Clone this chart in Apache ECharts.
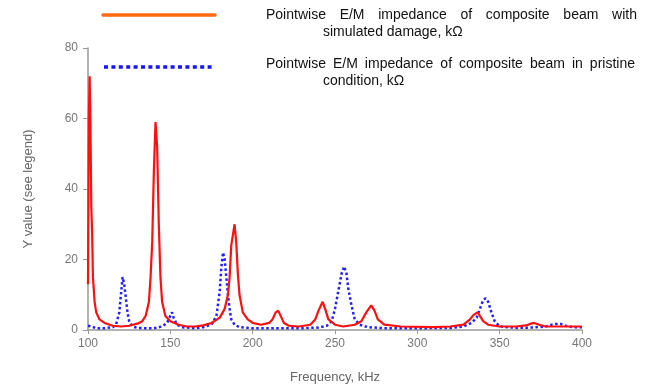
<!DOCTYPE html>
<html><head><meta charset="utf-8">
<script src="https://cdn.jsdelivr.net/npm/echarts@6/dist/echarts.min.js"></script>
<style>html,body{margin:0;padding:0;background:#fff}#c{width:652px;height:389px}</style>
</head><body><div id="c"></div>
<script>
// Damaged beam (red)
const damagedFreq = [100,100.5,101,101.5,102,102.5,103,104,105,107,110,115,120,125,130,133,135,137,138,139,140,141,142,143,144,145,147,150,155,160,165,170,175,180,183,185,186,187,188,189,190,191,192,194,197,200,205,210,212,214,215.5,217,219,222,228,235,238,240,242.5,244,246,250,255,262,266,269,272,274,276,280,290,310,320,328,332,334,336.5,338,340,343,350,360,366,369,371,374,378,390,400];
const damagedVal  = [13,60,72,58,35,28,15,8,5,3,2,1.2,1,1.2,1.8,2.5,4,8,15,25,45,59,52,30,15,8,4,2.5,1.5,1,1,1.3,2,3.5,6,10,15,24,27,30,25,16,10,5,3,2,1.5,2,3,5,5.5,4,2,1.2,1,1.5,3,5.5,8,6,3,1.5,1,1.5,2.5,5,7,5.5,3,1.5,1,0.8,1,1.5,3,4.2,5,4,2.5,1.5,1,1,1.3,1.8,2,1.5,1,1,1];
// Pristine beam (blue dotted)
const pristineFreq = [100,102,105,110,115,117,119,120,121,122,123,124,125,127,130,135,140,145,148,150,151,152,154,157,165,170,175,178,180,181,182,183,184,185,186,187,189,192,200,210,220,230,240,245,248,250,252,254,255.5,257,258,260,262,265,270,280,300,320,328,333,336,338,340,341.5,343,345,347,350,360,370,378,383,387,390,395,400];
const pristineVal  = [1.2,1,0.5,0.5,0.8,1.5,5,10,15,13,9,5,2.5,1,0.6,0.5,0.5,1,2,4,5,3.5,1.5,0.8,0.5,0.8,1.5,4,11,18,22,20,15,10,6,3,1.5,0.8,0.5,0.5,0.5,0.5,0.7,1.2,2.5,6,11,16,18,16,12,7,3,1.5,0.8,0.5,0.5,0.6,1,2,3.5,6,8.5,9,8,5,2.5,1,0.6,0.7,1,1.7,1.7,1.2,0.8,0.8];
const xTicks = [100,150,200,250,300,350,400];
const yTicks = [0,20,40,60,80];
const legend1 = ["Pointwise E/M impedance of composite beam with", "simulated damage, k\u03A9"];
const legend2 = ["Pointwise E/M impedance of composite beam in pristine", "condition, k\u03A9"];

const FONT = '14px "Liberation Sans", Arial, sans-serif';
const cv = document.createElement('canvas').getContext('2d');
cv.font = FONT;
function justified(line, x0, x1, y) {
  const words = line.split(' ');
  const widths = words.map(w => cv.measureText(w).width);
  const total = widths.reduce((a, b) => a + b, 0);
  const gap = (x1 - x0 - total) / (words.length - 1);
  let x = x0; const out = [];
  words.forEach((w, i) => {
    out.push({type:'text', x:x, y:y, style:{text:w, font:FONT, fill:'#111', align:'left', verticalAlign:'middle'}});
    x += widths[i] + gap;
  });
  return out;
}
const graphics = [
  {type:'line', shape:{x1:103,y1:15,x2:215,y2:15}, style:{stroke:'#ff6a10', lineWidth:3.5, lineCap:'round'}},
  {type:'line', shape:{x1:104,y1:67,x2:215,y2:67}, style:{stroke:'#1515ff', lineWidth:3.5, lineDash:[4,3.4]}},
  ...justified(legend1[0], 266, 637, 15),
  {type:'text', x:323, y:32, style:{text:legend1[1], font:FONT, fill:'#111', verticalAlign:'middle'}},
  ...justified(legend2[0], 266, 635, 64),
  {type:'text', x:323, y:81, style:{text:legend2[1], font:FONT, fill:'#111', verticalAlign:'middle'}}
];

const chart = echarts.init(document.getElementById('c'));
chart.setOption({
  animation:false,
  backgroundColor:'#fff',
  grid:{left:88, right:70, top:48, bottom:58},
  xAxis:{type:'value', min:xTicks[0], max:xTicks[xTicks.length-1], interval:50,
    name:'Frequency, kHz', nameLocation:'middle', nameGap:41,
    nameTextStyle:{color:'#666', fontSize:13, fontFamily:'Liberation Sans'},
    axisLine:{lineStyle:{color:'#999', width:1.5}},
    axisTick:{show:true, length:4, lineStyle:{color:'#999'}},
    axisLabel:{color:'#777', fontSize:12, fontFamily:'Liberation Sans', margin:8},
    splitLine:{show:false}},
  yAxis:{type:'value', min:yTicks[0], max:yTicks[yTicks.length-1], interval:20,
    name:'Y value (see legend)', nameLocation:'middle', nameGap:53,
    nameTextStyle:{color:'#666', fontSize:13, fontFamily:'Liberation Sans'},
    axisLine:{show:true, lineStyle:{color:'#999', width:1.5}},
    axisTick:{show:true, length:5, lineStyle:{color:'#999'}},
    axisLabel:{color:'#777', fontSize:12, fontFamily:'Liberation Sans', margin:10},
    splitLine:{show:false}},
  series:[
    {type:'line', name:'pristine', data:pristineFreq.map((f,i)=>[f,pristineVal[i]]), showSymbol:false,
      lineStyle:{color:'#2020ff', width:2.5, type:[2.5,2.5]}, z:2},
    {type:'line', name:'damaged', data:damagedFreq.map((f,i)=>[f,damagedVal[i]]), showSymbol:false,
      lineStyle:{color:'#ff1010', width:2.2}, z:3}
  ],
  graphic:graphics
});
</script></body></html>
